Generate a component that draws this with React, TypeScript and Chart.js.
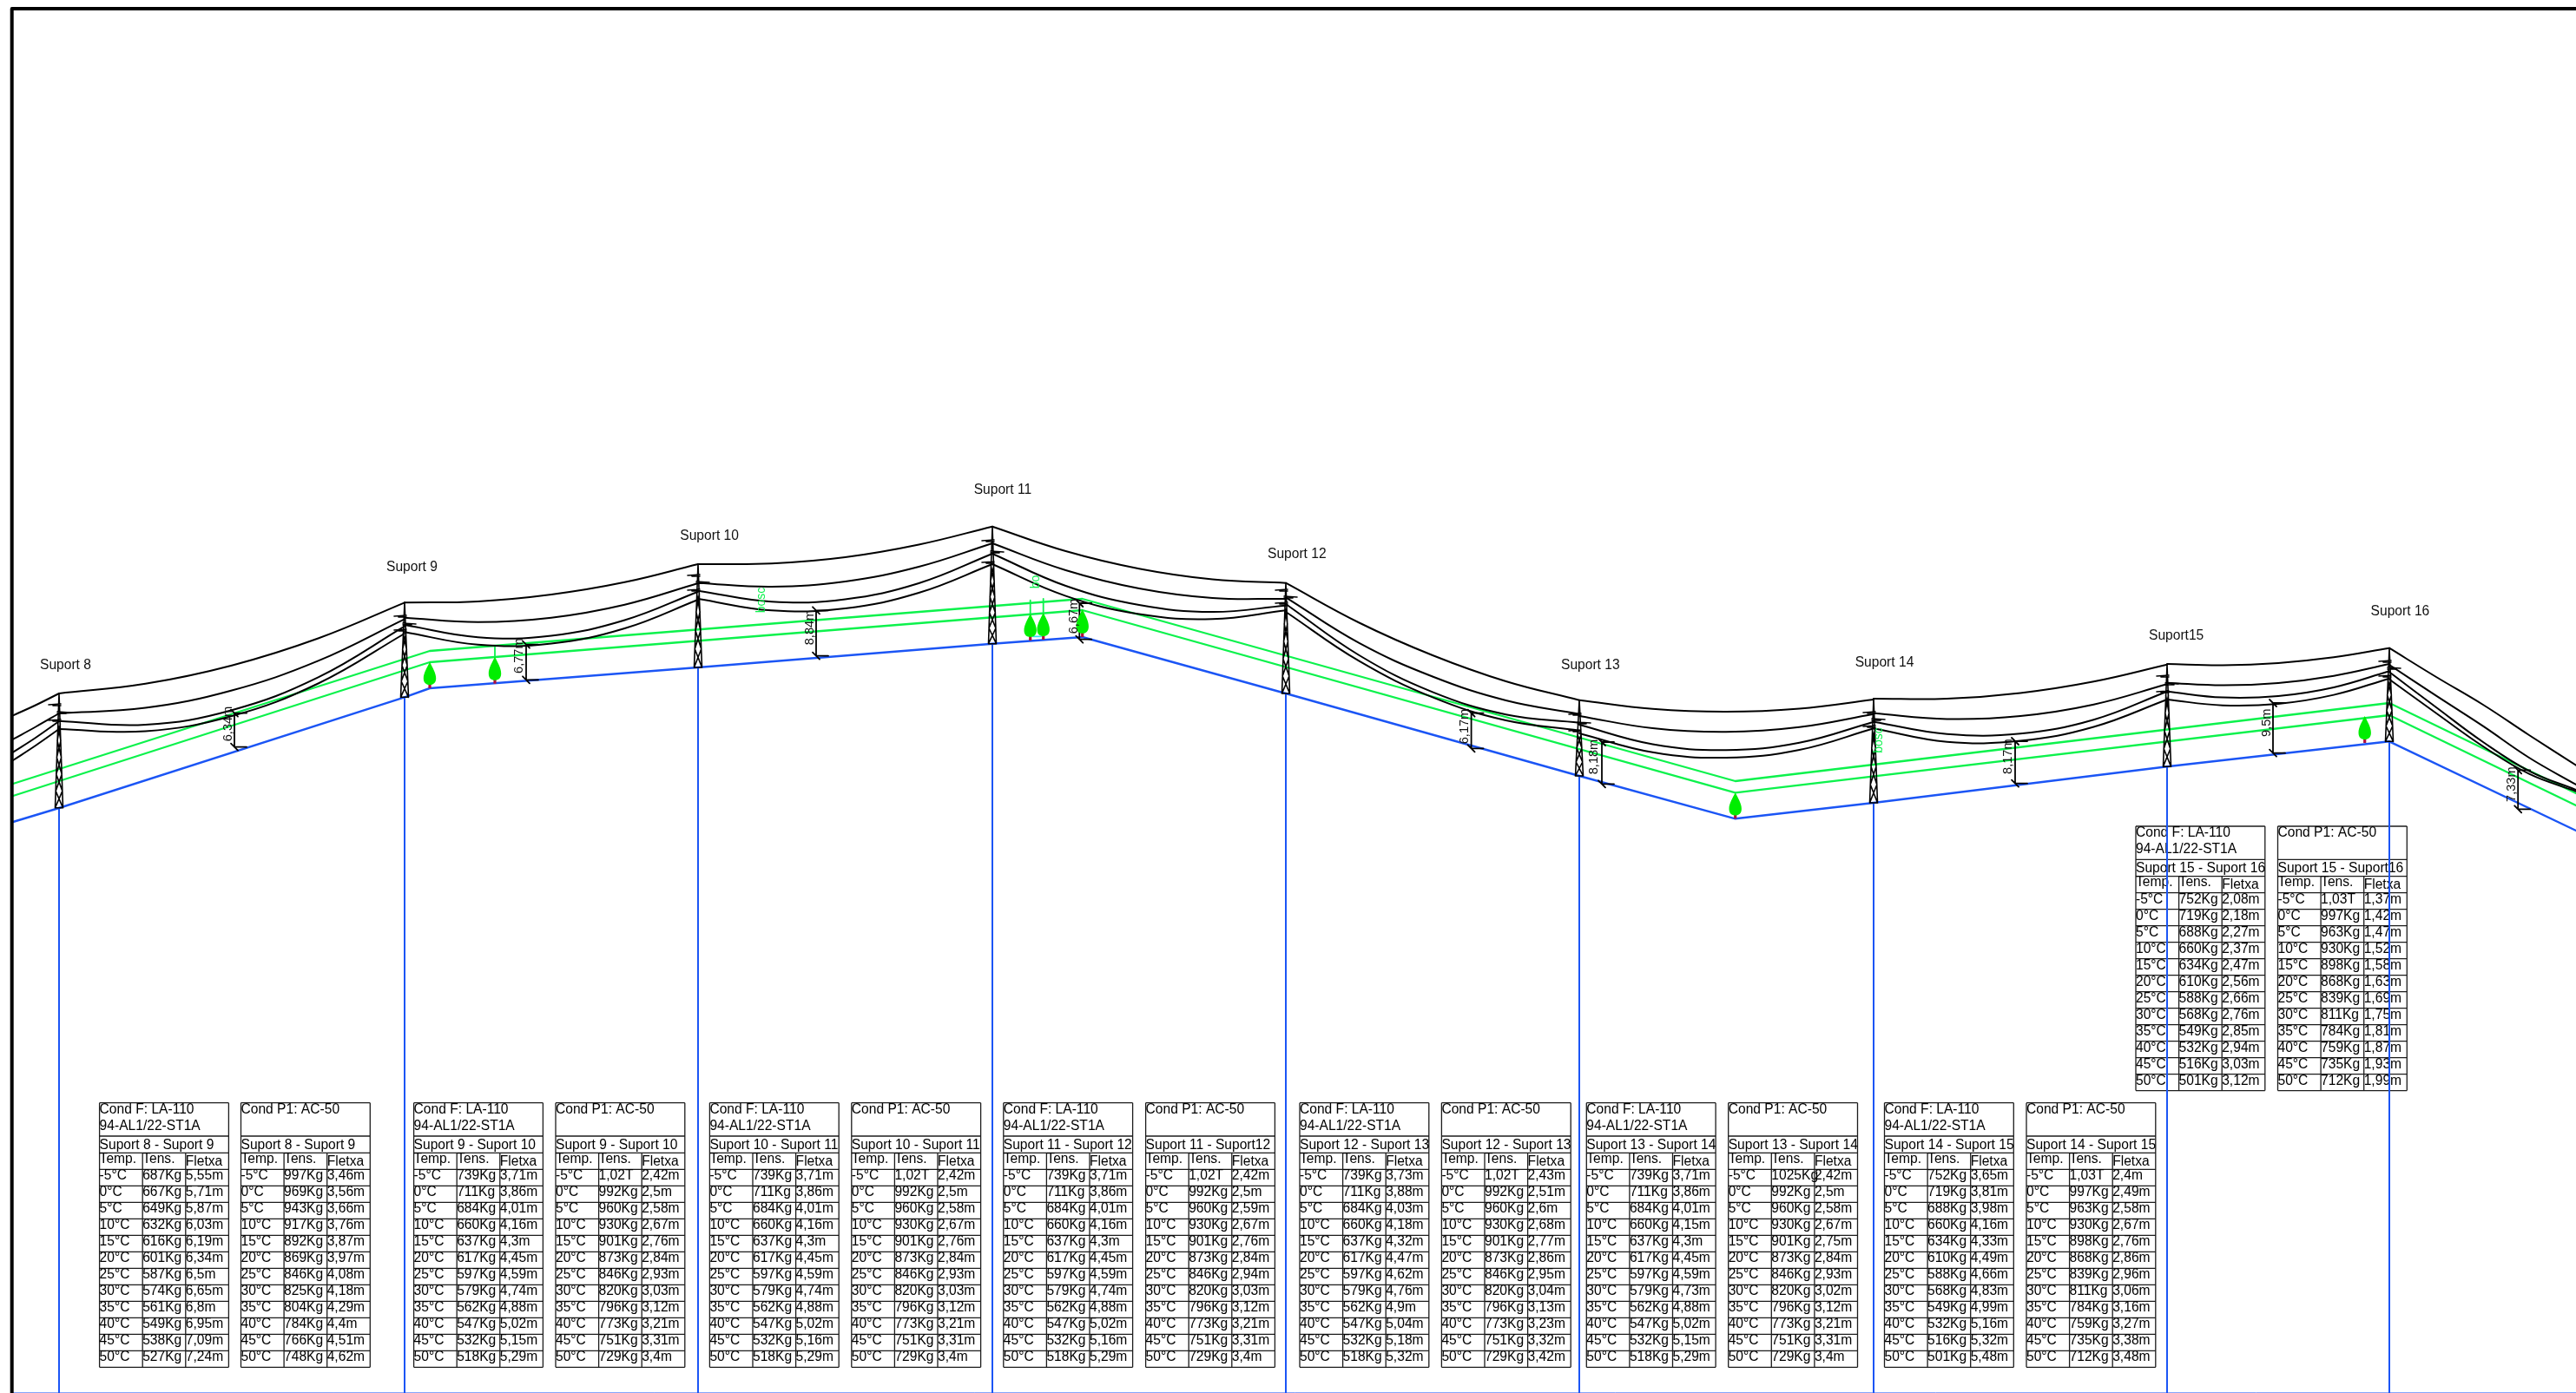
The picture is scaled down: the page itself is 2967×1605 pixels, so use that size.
import React, { useEffect, useRef } from "react";
import { Chart, registerables } from "chart.js";

Chart.register(...registerables);

const WIDTH = 2967;
const HEIGHT = 1605;

// ---- profile data (horizontal position, height on sheet)
const towerX = [68, 466, 804, 1143, 1481, 1819, 2158, 2496, 2752];
const towerTop = [799, 694.3, 650, 606.7, 671.7, 806.7, 805, 765.7, 746.7];
const towerBase = [930.7, 803.3, 769, 741.7, 799, 894, 925, 883.3, 854.3];
const armA = [812, 710, 663, 623, 680, 823, 821, 779, 762];
const armB = [821, 719, 671, 636, 688, 833, 829, 788, 770];
const armC = [830, 726, 680, 648, 695, 842, 837, 797, 779];

const supportNames = ["Suport 8", "Suport 9", "Suport 10", "Suport 11", "Suport 12", "Suport 13", "Suport 14", "Suport15", "Suport 16"];
const supportLabelX = [46, 445, 783.3, 1121.7, 1460, 1798, 2136.7, 2475, 2730.6];
const supportLabelY = [765.2, 652.2, 616, 563.6, 637.2, 765.2, 762.6, 731, 703.6];

const groundX = [15, 68, 466, 495, 804, 1143, 1246.7, 1481, 1819, 1998.7, 2158, 2496, 2752, 2967];
const groundY = [947, 931, 803.3, 793, 769, 741.7, 734, 799, 894, 943.3, 925, 883.3, 854.3, 957];

const greenX = [15, 495, 1246.7, 1998.7, 2752, 2967];
const greenUpper = [903, 750, 690, 900, 810, 914];
const greenLower = [917, 763, 703, 913.3, 824, 928];

const spanX = [
  [15, 41, 68],
  [68, 167.5, 267, 366.5, 466],
  [466, 550.5, 635, 719.5, 804],
  [804, 888.75, 973.5, 1058.25, 1143],
  [1143, 1227.5, 1312, 1396.5, 1481],
  [1481, 1565.5, 1650, 1734.5, 1819],
  [1819, 1903.5, 1988, 2072.5, 2158],
  [2158, 2242.5, 2327, 2411.5, 2496],
  [2496, 2560, 2624, 2688, 2752],
  [2752, 2806, 2860, 2913, 2967],
];
const wireEarth = [
  [824.3, 812.5, 799],
  [799, 787.8, 766.7, 735.5, 694.3],
  [694.3, 692.9, 685, 670.8, 650],
  [650, 649.3, 642, 627.5, 606.7],
  [606.7, 635, 655.2, 667.5, 671.7],
  [671.7, 717.5, 755, 785, 806.7],
  [806.7, 816.7, 820, 816.4, 806],
  [805, 805, 798.4, 785.2, 765.7],
  [765, 766.4, 763.9, 757.3, 746.7],
  [746.7, 780, 812, 847, 881.7],
];
const wirePhaseA = [
  [851.7, 837.5, 822],
  [821.7, 815.6, 795.5, 761.4, 713.3],
  [711.7, 716.7, 711.7, 696.7, 672],
  [671.7, 676, 670, 653, 626],
  [626, 657, 678, 689, 690],
  [688.3, 740.9, 779.5, 807, 822.7],
  [825, 839, 843.3, 837.8, 822.7],
  [821.7, 828.4, 825, 811.7, 788.3],
  [786.7, 789.5, 786.9, 778.7, 765],
  [766, 801.7, 836.7, 873, 904],
];
const wirePhaseB = [
  [866.7, 850, 831],
  [830.7, 835, 818.2, 780.4, 721.7],
  [720, 734.2, 732.4, 714.5, 681.7],
  [680.7, 693.3, 690.4, 672, 638],
  [638, 675, 697, 705, 697.7],
  [696, 755, 797.4, 823.2, 832.7],
  [835, 857.5, 864.3, 855.8, 831.7],
  [831.7, 845.8, 845.2, 829.2, 796.7],
  [796.7, 803.6, 802, 792, 773.3],
  [774.3, 815, 855, 888.3, 910],
];
const wirePhaseC = [
  [876, 859, 840],
  [840, 842.5, 825, 787.5, 730],
  [728.3, 742.8, 741.5, 724, 691],
  [690, 703.3, 701, 683, 650],
  [650, 686.6, 707.6, 713.3, 703.3],
  [705, 761.7, 803.4, 830, 841.7],
  [845, 866.8, 873, 864, 839.3],
  [839.3, 854.7, 853.6, 837.5, 806],
  [806, 812.7, 810.9, 800.6, 781.7],
  [782.7, 821.7, 860, 891.7, 911.7],
];

// clearance dimensions
const dimX = [270, 606, 940, 1243.3, 1694.6, 1845, 2321, 2618, 2900.2];
const dimTop = [821.7, 742.7, 703.3, 695, 821.7, 855, 854, 810, 887.3];
const dimBottom = [860.7, 783.3, 755.7, 736.7, 862.3, 903.3, 902.7, 867.7, 932.3];
const dimText = ["6,34m", "6,77m", "8,84m", "6,67m", "6,17m", "8,18m", "8,17m", "9,5m", "7,33m"];
const dimTextX = [262.5, 598, 933.3, 1236.7, 1686.6, 1836, 2313.3, 2610.5, 2892.6];
const dimTextY = [834, 755.7, 723, 710, 837, 872, 871.7, 832.7, 903.7];

// trees
const treeX = [495, 570, 1186.7, 1201.7, 1246.7, 1998.7, 2723.7];
const treeTop = [762.7, 756.7, 707.3, 706, 701.7, 913.3, 825];
const treeFoot = [793, 787.7, 738, 737, 734, 943.3, 856];

const treeLinkX = [570, 1186.7, 1201.7];
const treeLinkTop = [744, 691.7, 690];
const treeLinkFoot = [757, 707.3, 706];

const forestText = ["bosc", "bo", "bosc"];
const forestX = [876.7, 1193, 2164];
const forestY = [691.5, 670.5, 853];

// ---- tables
const temps = ["-5°C", "0°C", "5°C", "10°C", "15°C", "20°C", "25°C", "30°C", "35°C", "40°C", "45°C", "50°C"];
const tensA = ["687Kg", "667Kg", "649Kg", "632Kg", "616Kg", "601Kg", "587Kg", "574Kg", "561Kg", "549Kg", "538Kg", "527Kg"];
const tensB = ["997Kg", "969Kg", "943Kg", "917Kg", "892Kg", "869Kg", "846Kg", "825Kg", "804Kg", "784Kg", "766Kg", "748Kg"];
const tensC = ["739Kg", "711Kg", "684Kg", "660Kg", "637Kg", "617Kg", "597Kg", "579Kg", "562Kg", "547Kg", "532Kg", "518Kg"];
const tensD = ["1,02T", "992Kg", "960Kg", "930Kg", "901Kg", "873Kg", "846Kg", "820Kg", "796Kg", "773Kg", "751Kg", "729Kg"];
const tensD2 = ["1025Kg", "992Kg", "960Kg", "930Kg", "901Kg", "873Kg", "846Kg", "820Kg", "796Kg", "773Kg", "751Kg", "729Kg"];
const tensE = ["752Kg", "719Kg", "688Kg", "660Kg", "634Kg", "610Kg", "588Kg", "568Kg", "549Kg", "532Kg", "516Kg", "501Kg"];
const tensF = ["1,03T", "997Kg", "963Kg", "930Kg", "898Kg", "868Kg", "839Kg", "811Kg", "784Kg", "759Kg", "735Kg", "712Kg"];

const flet89F = ["5,55m", "5,71m", "5,87m", "6,03m", "6,19m", "6,34m", "6,5m", "6,65m", "6,8m", "6,95m", "7,09m", "7,24m"];
const flet89P = ["3,46m", "3,56m", "3,66m", "3,76m", "3,87m", "3,97m", "4,08m", "4,18m", "4,29m", "4,4m", "4,51m", "4,62m"];
const flet910F = ["3,71m", "3,86m", "4,01m", "4,16m", "4,3m", "4,45m", "4,59m", "4,74m", "4,88m", "5,02m", "5,15m", "5,29m"];
const flet910P = ["2,42m", "2,5m", "2,58m", "2,67m", "2,76m", "2,84m", "2,93m", "3,03m", "3,12m", "3,21m", "3,31m", "3,4m"];
const flet1011F = ["3,71m", "3,86m", "4,01m", "4,16m", "4,3m", "4,45m", "4,59m", "4,74m", "4,88m", "5,02m", "5,16m", "5,29m"];
const flet1112P = ["2,42m", "2,5m", "2,59m", "2,67m", "2,76m", "2,84m", "2,94m", "3,03m", "3,12m", "3,21m", "3,31m", "3,4m"];
const flet1213F = ["3,73m", "3,88m", "4,03m", "4,18m", "4,32m", "4,47m", "4,62m", "4,76m", "4,9m", "5,04m", "5,18m", "5,32m"];
const flet1213P = ["2,43m", "2,51m", "2,6m", "2,68m", "2,77m", "2,86m", "2,95m", "3,04m", "3,13m", "3,23m", "3,32m", "3,42m"];
const flet1314F = ["3,71m", "3,86m", "4,01m", "4,15m", "4,3m", "4,45m", "4,59m", "4,73m", "4,88m", "5,02m", "5,15m", "5,29m"];
const flet1314P = ["2,42m", "2,5m", "2,58m", "2,67m", "2,75m", "2,84m", "2,93m", "3,02m", "3,12m", "3,21m", "3,31m", "3,4m"];
const flet1415F = ["3,65m", "3,81m", "3,98m", "4,16m", "4,33m", "4,49m", "4,66m", "4,83m", "4,99m", "5,16m", "5,32m", "5,48m"];
const flet1415P = ["2,4m", "2,49m", "2,58m", "2,67m", "2,76m", "2,86m", "2,96m", "3,06m", "3,16m", "3,27m", "3,38m", "3,48m"];
const flet1516F = ["2,08m", "2,18m", "2,27m", "2,37m", "2,47m", "2,56m", "2,66m", "2,76m", "2,85m", "2,94m", "3,03m", "3,12m"];
const flet1516P = ["1,37m", "1,42m", "1,47m", "1,52m", "1,58m", "1,63m", "1,69m", "1,75m", "1,81m", "1,87m", "1,93m", "1,99m"];

const tableLeft = [114.6, 277.5, 476.6, 640, 817.4, 980.8, 1155.8, 1319.6, 1497, 1660.4, 1827.3, 1990.7, 2170.5, 2334, 2460, 2623.5];
const tableTop = [1270.7, 1270.7, 1270.7, 1270.7, 1270.7, 1270.7, 1270.7, 1270.7, 1270.7, 1270.7, 1270.7, 1270.7, 1270.7, 1270.7, 952, 952];
const tableSpan = [
  "Suport 8 - Suport 9", "Suport 8 - Suport 9", "Suport 9 - Suport 10", "Suport 9 - Suport 10",
  "Suport 10 - Suport 11", "Suport 10 - Suport 11", "Suport 11 - Suport 12", "Suport 11 - Suport12",
  "Suport 12 - Suport 13", "Suport 12 - Suport 13", "Suport 13 - Suport 14", "Suport 13 - Suport 14",
  "Suport 14 - Suport 15", "Suport 14 - Suport 15", "Suport 15 - Suport 16", "Suport 15 - Suport16",
];
const tableTens = [tensA, tensB, tensC, tensD, tensC, tensD, tensC, tensD, tensC, tensD, tensC, tensD2, tensE, tensF, tensE, tensF];
const tableFlet = [flet89F, flet89P, flet910F, flet910P, flet1011F, flet910P, flet1011F, flet1112P, flet1213F, flet1213P, flet1314F, flet1314P, flet1415F, flet1415P, flet1516F, flet1516P];

// ---- helpers turning the lists into datasets
const zip = (xs: number[], ys: number[]) => xs.map((x, i) => ({ x, y: ys[i] }));
const GAP = { x: NaN, y: NaN };

function towerPoints(i: number) {
  const x = towerX[i], t = towerTop[i], b = towerBase[i];
  const halfAt = (y: number) => 4.2 * ((y - t) / (b - t)) + 0.3;
  const pts: { x: number; y: number }[] = [];
  const seg = (x0: number, y0: number, x1: number, y1: number) => pts.push({ x: x0, y: y0 }, { x: x1, y: y1 }, GAP);
  seg(x, t, x - halfAt(b), b);
  seg(x, t, x + halfAt(b), b);
  seg(x - halfAt(b), b, x + halfAt(b), b);
  const start = armC[i] + 4;
  const n = Math.max(3, Math.round((b - start) / 19));
  const h = (b - start) / n;
  for (let k = 0; k < n; k++) {
    const y0 = start + k * h, y1 = y0 + h;
    seg(x - halfAt(y0), y0, x + halfAt(y1), y1);
    seg(x + halfAt(y0), y0, x - halfAt(y1), y1);
  }
  seg(x - 12, armA[i], x + 2, armA[i] - 1);
  seg(x - 7, armA[i] + 1, x + 2, armA[i] + 1);
  seg(x - 2, armB[i] - 1, x + 13, armB[i]);
  seg(x - 2, armB[i] + 1, x + 8, armB[i] + 1);
  seg(x - 12, armC[i], x + 2, armC[i] - 1);
  seg(x - 7, armC[i] + 1, x + 2, armC[i] + 1);
  return pts;
}

function dimPoints(i: number) {
  const x = dimX[i], t = dimTop[i], b = dimBottom[i];
  return [
    { x, y: t }, { x, y: b }, GAP,
    { x, y: t }, { x: x + 14, y: t }, GAP,
    { x, y: b }, { x: x + 14, y: b }, GAP,
    { x: x - 4, y: t - 4 }, { x: x + 4, y: t + 4 }, GAP,
    { x: x - 4, y: b - 4 }, { x: x + 4, y: b + 4 }, GAP,
  ];
}

const lineDs = (label: string, data: any[], color: string, width: number, order: number, tension = 0) => ({
  label, data, borderColor: color, backgroundColor: color, borderWidth: width, order, tension,
  showLine: true, pointRadius: 0, pointHoverRadius: 0, spanGaps: false, fill: false,
  borderCapStyle: "round" as const, borderJoinStyle: "round" as const,
});

const BLACK = "#000000";
const BLUE = "#1b55f5";
const GREEN = "#0cf24c";

function buildDatasets() {
  const ds: any[] = [];
  ds.push(lineDs("frame", [{ x: 13.7, y: 1605 }, { x: 13.7, y: 9.9 }, { x: 2967, y: 9.9 }], BLACK, 4, 1));
  [wireEarth, wirePhaseA, wirePhaseB, wirePhaseC].forEach((wire, w) => {
    wire.forEach((ys, s) => ds.push(lineDs(`wire${w}-${s}`, zip(spanX[s], ys), BLACK, 2, 2, 0.4)));
  });
  dimX.forEach((_, i) => ds.push(lineDs(`dim${i}`, dimPoints(i), BLACK, 1.8, 3)));
  towerX.forEach((_, i) => ds.push(lineDs(`tower${i}`, towerPoints(i), BLACK, 1.6, 4)));
  ds.push(lineDs("ground", zip(groundX, groundY), BLUE, 2.4, 5));
  towerX.forEach((x, i) => ds.push(lineDs(`drop${i}`, [{ x, y: towerBase[i] }, { x, y: 1605 }], BLUE, 2, 6)));
  ds.push(lineDs("sheet", [{ x: 15, y: 1604.5 }, { x: 2967, y: 1604.5 }], "#86a4fb", 1, 6));
  ds.push(lineDs("greenUpper", zip(greenX, greenUpper), GREEN, 2.3, 7));
  ds.push(lineDs("greenLower", zip(greenX, greenLower), GREEN, 2.3, 7));
  treeLinkX.forEach((x, i) => ds.push(lineDs(`link${i}`, [{ x, y: treeLinkTop[i] }, { x, y: treeLinkFoot[i] }], GREEN, 1.8, 7)));
  ds.push(lineDs("treeBase", [{ x: 1190, y: 733.3 }, { x: 1199, y: 733.3 }], "#35e0f5", 1.8, 7));
  return ds;
}

const FONT_FAMILY = "'Liberation Sans', Arial, sans-serif";

const tablesPlugin = {
  id: "tables",
  beforeDatasetsDraw(chart: any) {
    const { ctx, scales } = chart;
    const px = (v: number) => scales.x.getPixelForValue(v);
    const py = (v: number) => scales.y.getPixelForValue(v);
    ctx.save();
    ctx.strokeStyle = "#1c1c1c";
    ctx.lineWidth = 1.3;
    ctx.fillStyle = "#000";
    ctx.font = `15.6px ${FONT_FAMILY}`;
    ctx.textBaseline = "alphabetic";
    ctx.textAlign = "left";
    const W = 148.8, col = W / 3, R = 19;
    tableLeft.forEach((l, t) => {
      const top = tableTop[t];
      const hs = [top, top + 38.3, top + 57.6, top + 76.6];
      for (let r = 1; r <= 12; r++) hs.push(top + 76.6 + r * R);
      const bottom = hs[hs.length - 1];
      ctx.beginPath();
      hs.forEach((y) => {
        ctx.moveTo(px(l), py(y));
        ctx.lineTo(px(l + W), py(y));
      });
      [l, l + W].forEach((x) => {
        ctx.moveTo(px(x), py(top));
        ctx.lineTo(px(x), py(bottom));
      });
      [l + col, l + 2 * col].forEach((x) => {
        ctx.moveTo(px(x), py(hs[2]));
        ctx.lineTo(px(x), py(bottom));
      });
      ctx.stroke();
      const txt = (s: string, x: number, y: number) => ctx.fillText(s, px(x), py(y));
      const isF = t % 2 === 0;
      txt(isF ? "Cond F: LA-110" : "Cond P1: AC-50", l, top + 12);
      if (isF) txt("94-AL1/22-ST1A", l, top + 31);
      txt(tableSpan[t], l, top + 53.3);
      txt("Temp.", l, hs[2] + 11.6);
      txt("Tens.", l + col, hs[2] + 11.6);
      txt("Fletxa", l + 2 * col, hs[2] + 14.6);
      temps.forEach((temp, r) => {
        const y = hs[3 + r] + 12;
        txt(temp, l, y);
        txt(tableTens[t][r], l + col, y);
        txt(tableFlet[t][r], l + 2 * col, y);
      });
    });
    ctx.restore();
  },
};

const annotationsPlugin = {
  id: "annotations",
  afterDatasetsDraw(chart: any) {
    const { ctx, scales } = chart;
    const px = (v: number) => scales.x.getPixelForValue(v);
    const py = (v: number) => scales.y.getPixelForValue(v);
    ctx.save();
    // trees
    treeX.forEach((x, i) => {
      const cx = px(x), top = py(treeTop[i]), foot = py(treeFoot[i]);
      const h = foot - top;
      const leaf = top + h * 0.87;
      ctx.fillStyle = "#b0103c";
      ctx.fillRect(cx - 1.6, leaf - 2, 3.2, foot - leaf + 2);
      ctx.fillStyle = "#00ee00";
      ctx.beginPath();
      ctx.moveTo(cx, top);
      ctx.bezierCurveTo(cx + 3, top + h * 0.2, cx + 7.2, top + h * 0.42, cx + 7.2, top + h * 0.62);
      ctx.bezierCurveTo(cx + 7.2, top + h * 0.8, cx + 4, leaf, cx, leaf);
      ctx.bezierCurveTo(cx - 4, leaf, cx - 7.2, top + h * 0.8, cx - 7.2, top + h * 0.62);
      ctx.bezierCurveTo(cx - 7.2, top + h * 0.42, cx - 3, top + h * 0.2, cx, top);
      ctx.fill();
    });
    // support names
    ctx.fillStyle = "#111";
    ctx.font = `15.6px ${FONT_FAMILY}`;
    ctx.textAlign = "left";
    ctx.textBaseline = "alphabetic";
    supportNames.forEach((s, i) => ctx.fillText(s, px(supportLabelX[i]), py(supportLabelY[i]) + 5.6));
    // clearance labels
    ctx.font = `14.6px ${FONT_FAMILY}`;
    ctx.textAlign = "center";
    ctx.textBaseline = "middle";
    const rotated = (s: string, x: number, y: number) => {
      ctx.save();
      ctx.translate(px(x), py(y));
      ctx.rotate(-Math.PI / 2);
      ctx.fillText(s, 0, 0);
      ctx.restore();
    };
    ctx.fillStyle = "#111";
    dimText.forEach((s, i) => rotated(s, dimTextX[i], dimTextY[i]));
    ctx.fillStyle = GREEN;
    ctx.font = `14px ${FONT_FAMILY}`;
    forestText.forEach((s, i) => rotated(s, forestX[i], forestY[i]));
    ctx.restore();
  },
};

export default function App() {
  const ref = useRef<HTMLCanvasElement | null>(null);
  useEffect(() => {
    document.body.style.margin = "0";
    document.body.style.background = "#fff";
    document.documentElement.style.overflow = "hidden";
    const chart = new Chart(ref.current as HTMLCanvasElement, {
      type: "scatter",
      data: { datasets: buildDatasets() },
      options: {
        animation: false,
        responsive: false,
        devicePixelRatio: 1,
        layout: { padding: 0 },
        events: [],
        plugins: { legend: { display: false }, tooltip: { enabled: false }, title: { display: false } },
        scales: {
          x: { type: "linear", min: 0, max: WIDTH, display: false },
          y: { type: "linear", min: 0, max: HEIGHT, reverse: true, display: false },
        },
      },
      plugins: [tablesPlugin, annotationsPlugin],
    } as any);
    return () => chart.destroy();
  }, []);
  return (
    <div style={{ position: "absolute", left: 0, top: 0, width: WIDTH, height: HEIGHT, background: "#fff" }}>
      <canvas ref={ref} width={WIDTH} height={HEIGHT} style={{ display: "block", width: WIDTH, height: HEIGHT }} />
    </div>
  );
}
